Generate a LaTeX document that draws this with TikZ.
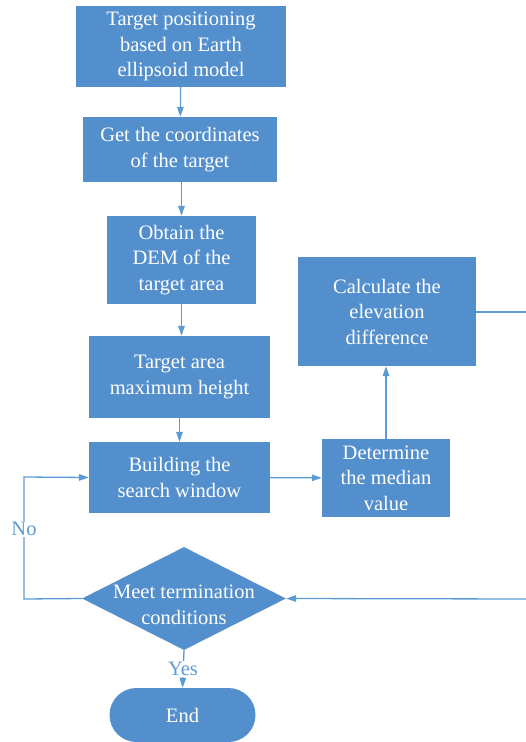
\documentclass[tikz,border=0pt]{standalone}
\usepackage{fontspec}
\setmainfont{Liberation Serif}
\newfontfamily\diagfont{Liberation Serif}
\usetikzlibrary{shapes.geometric,arrows.meta}
\definecolor{boxfill}{RGB}{84,143,205}
\definecolor{linec}{RGB}{91,155,213}
\begin{document}
\begin{tikzpicture}[x=1pt,y=-1pt,
  font=\diagfont\fontsize{20.5}{25.5}\selectfont,
  stepbox/.style={fill=boxfill,draw=none,text=white,align=center,inner sep=0pt,minimum width=#1},
  conn/.style={draw=linec,line width=1.3pt,-{Triangle[length=10pt,width=6.5pt]}},
  plain/.style={draw=linec,line width=1.3pt},
  lbl/.style={fill=white,text=linec,inner sep=1pt}]
\useasboundingbox (0,0) rectangle (526,742);
\clip (0,0) rectangle (526,742);
\node[stepbox=210pt,minimum height=81pt] (b1) at (181,46.5) {Target positioning\\based on Earth\\ellipsoid model};
\node[stepbox=194pt,minimum height=65pt] (b2) at (180,149.5) {Get the coordinates\\of the target};
\node[stepbox=149pt,minimum height=88pt] (b3) at (181.5,260) {Obtain the\\DEM of the\\target area};
\node[stepbox=181pt,minimum height=82pt] (b4) at (179.5,377) {Target area\\maximum height};
\node[stepbox=181pt,minimum height=71pt] (b5) at (179.5,477.5) {Building the\\search window};
\node[stepbox=128pt,minimum height=78pt] (b6) at (386,478) {Determine\\the median\\value};
\node[stepbox=178pt,minimum height=109pt] (b7) at (387,311.5) {Calculate the\\elevation\\difference};
\node[diamond,fill=boxfill,text=white,align=center,inner sep=0pt,minimum width=204pt,minimum height=103pt,aspect=2] (d) at (184,598.5) {};
\node[text=white,align=center] (dt) at (184,605) {Meet termination\\conditions};
\node[fill=boxfill,text=white,rounded corners=27pt,minimum width=146pt,minimum height=54pt,inner sep=0pt] (end) at (182.5,715) {End};
\coordinate (r1) at (530,312);
\coordinate (r2) at (530,599);
\coordinate (l1) at (24,599);
\coordinate (l2) at (24,477);
\draw[conn] (b1) -- (b2);
\draw[conn] (b2.south -| b3) -- (b3);
\draw[conn] (b3) -- (b4.north -| b3);
\draw[conn] (b4) -- (b5);
\draw[conn] (b5) -- (b6);
\draw[conn] (b6) -- (b7.south -| b6);
\draw[plain] (b7.east |- r1) -- (r1) -- (r2);
\draw[conn] (r2) -- (d.east);
\draw[conn] (d.west) -- (l1) -- (l2) -- (b5.west);
\node[lbl] (no) at (24,529) {No};
\draw[conn] (d.south) -- (end.north);
\node[lbl] (yes) at (183,669) {Yes};
\end{tikzpicture}
\end{document}
